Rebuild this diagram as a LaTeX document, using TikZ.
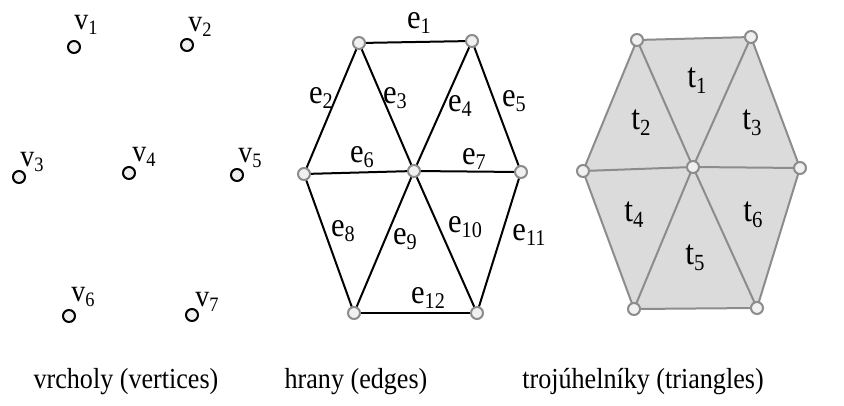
\documentclass[tikz,border=0pt]{standalone}
\usepackage{fontspec}
\usepackage{graphicx}
\setmainfont{Liberation Serif}[FakeStretch=0.9]
\definecolor{ptfill}{gray}{0.94}
\definecolor{ptgray}{gray}{0.55}
\definecolor{trifill}{gray}{0.86}
\newcommand{\idx}[2]{#1\raisebox{-0.17em}{\scalebox{0.66}{#2}}}
\begin{document}
\begin{tikzpicture}[x=1pt,y=-1pt,every node/.style={font=\fontsize{31}{34}\selectfont},
    vdot/.style={circle,draw=black,fill=ptfill,line width=2pt,minimum size=12pt,inner sep=0pt},
    gdot/.style={circle,draw=ptgray,fill=ptfill,line width=2pt,minimum size=12pt,inner sep=0pt},
    edge/.style={line width=2pt,black},
    tedge/.style={line width=2pt,ptgray,line join=round},
    elab/.style={font=\fontsize{34}{38}\selectfont},
    tlab/.style={font=\fontsize{35}{38}\selectfont},
    caption/.style={font=\fontsize{29}{32}\selectfont}]
    \useasboundingbox (0,0) rectangle (844,405);

    % vertices
    \node[vdot] (v1) at (74,47) {};
    \node[vdot] (v2) at (187,45) {};
    \node[vdot] (v3) at (19,177) {};
    \node[vdot] (v4) at (129,173) {};
    \node[vdot] (v5) at (237,175) {};
    \node[vdot] (v6) at (69,316) {};
    \node[vdot] (v7) at (192,315) {};
    \node (v1l) at (86,25) {\idx{v}{1}};
    \node (v2l) at (200,27) {\idx{v}{2}};
    \node (v3l) at (32,162) {\idx{v}{3}};
    \node (v4l) at (144,157) {\idx{v}{4}};
    \node (v5l) at (250,158) {\idx{v}{5}};
    \node (v6l) at (83,297) {\idx{v}{6}};
    \node (v7l) at (207,302) {\idx{v}{7}};
    \node[caption] (capv) at (126,382) {vrcholy (vertices)};

    % edges
    \node[gdot] (h1) at (359,43) {};
    \node[gdot] (h2) at (472,41) {};
    \node[gdot] (h3) at (304,174) {};
    \node[gdot] (h4) at (414,171) {};
    \node[gdot] (h5) at (521,172) {};
    \node[gdot] (h6) at (354,313) {};
    \node[gdot] (h7) at (477,313) {};
    \foreach \a/\b in {h1/h2,h1/h3,h1/h4,h2/h4,h2/h5,h3/h4,h4/h5,h3/h6,h4/h6,h4/h7,h5/h7,h6/h7} {
      \draw[edge] (\a)--(\b);
    }
    \node[elab] (e1) at (419,23) {\idx{e}{1}};
    \node[elab] (e2) at (321,98) {\idx{e}{2}};
    \node[elab] (e3) at (395,98) {\idx{e}{3}};
    \node[elab] (e4) at (460,106) {\idx{e}{4}};
    \node[elab] (e5) at (514,101) {\idx{e}{5}};
    \node[elab] (e6) at (362,157) {\idx{e}{6}};
    \node[elab] (e7) at (474,159) {\idx{e}{7}};
    \node[elab] (e8) at (343,231) {\idx{e}{8}};
    \node[elab] (e9) at (405,239) {\idx{e}{9}};
    \node[elab] (e10) at (465,227) {\idx{e}{10}};
    \node[elab] (e11) at (529,235) {\idx{e}{11}};
    \node[elab] (e12) at (428,298) {\idx{e}{12}};
    \node[caption] (cape) at (356,382) {hrany (edges)};

    % triangles
    \coordinate (p1) at (637,40);
    \coordinate (p2) at (751,37);
    \coordinate (p3) at (583,171);
    \coordinate (p4) at (693,167);
    \coordinate (p5) at (800,168);
    \coordinate (p6) at (634,309);
    \coordinate (p7) at (757,308);
    \fill[trifill] (p1)--(p2)--(p5)--(p7)--(p6)--(p3)--cycle;
    \draw[tedge] (p1)--(p2)--(p5)--(p7)--(p6)--(p3)--cycle;
    \foreach \a in {p1,p2,p3,p5,p6,p7} {
      \draw[tedge] (p4)--(\a);
    }
    \foreach \a in {p1,p2,p3,p4,p5,p6,p7} {
      \node[gdot] (\a d) at (\a) {};
    }
    \node[tlab] (t1) at (697,81) {\idx{t}{1}};
    \node[tlab] (t2) at (641,123) {\idx{t}{2}};
    \node[tlab] (t3) at (752,123) {\idx{t}{3}};
    \node[tlab] (t4) at (634,215) {\idx{t}{4}};
    \node[tlab] (t5) at (695,258) {\idx{t}{5}};
    \node[tlab] (t6) at (753,215) {\idx{t}{6}};
    \node[caption] (capt) at (643,382) {trojúhelníky (triangles)};
  \end{tikzpicture}
\end{document}
